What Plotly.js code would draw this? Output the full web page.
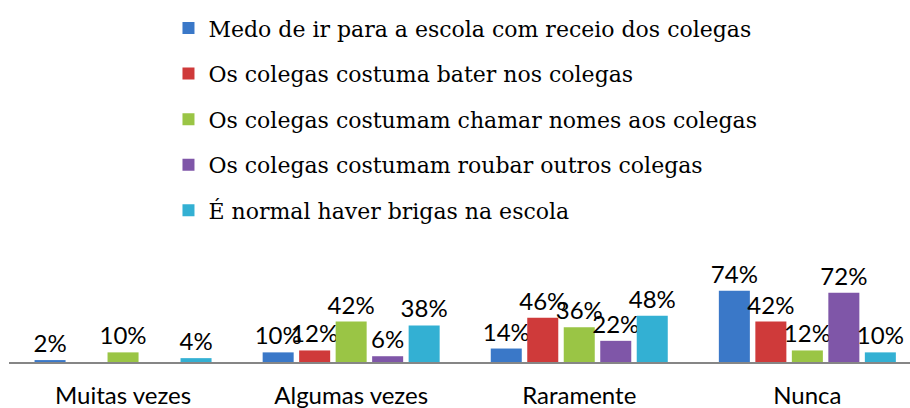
<!DOCTYPE html>
<html><head><meta charset="utf-8">
<script src="https://cdn.plot.ly/plotly-3.0.1.min.js"></script>
<style>body{margin:0;background:#fff}#chart{width:910px;height:408px}</style>
</head><body><div id="chart"></div>
<script>
const categories = ["Muitas vezes", "Algumas vezes", "Raramente", "Nunca"];
const seriesNames = [
  "Medo de ir para a escola com receio dos colegas",
  "Os colegas costuma bater nos colegas",
  "Os colegas costumam chamar nomes aos colegas",
  "Os colegas costumam roubar outros colegas",
  "É normal haver brigas na escola"
];
const medo = [2, 10, 14, 74];
const bater = [0, 12, 46, 42];
const chamar = [10, 42, 36, 12];
const roubar = [0, 6, 22, 72];
const brigas = [4, 38, 48, 10];
const colors = ["#3A78C8", "#CF3A3A", "#9AC545", "#7F56A8", "#33B0D3"];

const series = [medo, bater, chamar, roubar, brigas];
const traces = series.map((vals, i) => ({
  type: "bar",
  name: seriesNames[i],
  legendgroup: "g" + i,
  x: categories,
  y: vals,
  text: vals.map(v => v > 0 ? v + "%" : ""),
  textposition: "outside",
  constraintext: "none",
  cliponaxis: false,
  textfont: {family: "Lato, 'Liberation Sans', sans-serif", size: 24, color: "#000"},
  marker: {color: colors[i]},
  hoverinfo: "none"
}));

const layout = {
  width: 910, height: 408,
  margin: {l: 9, r: 0, t: 5, b: 46},
  paper_bgcolor: "#fff", plot_bgcolor: "#fff",
  barmode: "group",
  bargap: 0.2,
  bargroupgap: 0.15,
  showlegend: true,
  legend: {
    x: 0.177, y: 0.994, xanchor: "left", yanchor: "top",
    font: {family: "'DejaVu Serif', serif", size: 22, color: "#000"},
    tracegroupgap: 14,
    traceorder: "grouped",
    bgcolor: "rgba(0,0,0,0)"
  },
  xaxis: {
    range: [-0.5, 3.45],
    showline: true, linecolor: "#868686", linewidth: 2,
    ticks: "", showgrid: false,
    ticklabelstandoff: 11,
    tickfont: {family: "Lato, 'Liberation Sans', sans-serif", size: 24, color: "#000"}
  },
  yaxis: {
    domain: [0, 0.2157],
    range: [0, 80],
    visible: false, showgrid: false, zeroline: false
  }
};
Plotly.newPlot("chart", traces, layout, {displayModeBar: false, staticPlot: true});
</script></body></html>
